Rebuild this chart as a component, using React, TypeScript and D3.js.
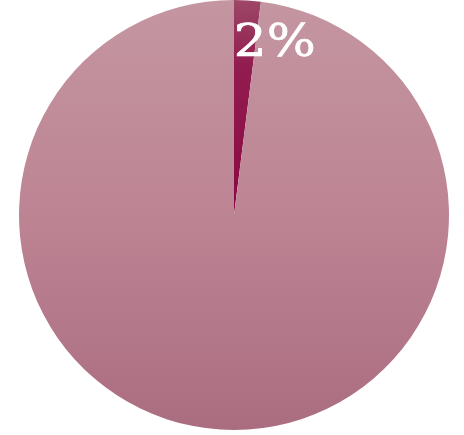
import React from "react";
import * as d3 from "d3";

const categories: string[] = ["A", "B"];
const values: number[] = [2, 98];
const labels: string[] = ["2%", ""];

const W = 464;
const H = 435;

export default function App() {
  const cx = 234;
  const cy = 215;
  const r = 215;
  const pie = d3.pie<number>().sort(null).value((d) => d);
  const arcs = pie(values);
  const arc = d3.arc<d3.PieArcDatum<number>>().innerRadius(0).outerRadius(r);
  const labelArc = d3.arc<d3.PieArcDatum<number>>().innerRadius(172).outerRadius(172);
  const fills = ["url(#gSmall)", "url(#gBig)"];
  return (
    <svg
      width={W}
      height={H}
      style={{ position: "absolute", left: 0, top: 0 }}
    >
      <defs>
        <linearGradient id="gBig" gradientUnits="userSpaceOnUse" x1="0" y1={-r} x2="0" y2={r}>
          <stop offset="0" stopColor="#c496a1" />
          <stop offset="0.5" stopColor="#bd8494" />
          <stop offset="1" stopColor="#aa6d80" />
        </linearGradient>
        <linearGradient id="gSmall" gradientUnits="userSpaceOnUse" x1="0" y1={-r} x2="0" y2={0}>
          <stop offset="0" stopColor="#9e4767" />
          <stop offset="0.3" stopColor="#921d4f" />
          <stop offset="1" stopColor="#8b0743" />
        </linearGradient>
      </defs>
      <g transform={`translate(${cx},${cy})`}>
        {arcs.map((a, i) => (
          <path key={categories[i]} d={arc(a) || ""} fill={fills[i]} />
        ))}
        {arcs.map((a, i) => {
          if (!labels[i]) return null;
          const [x, y] = labelArc.centroid(a);
          return (
            <text
              key={"l" + i}
              x={x - 11}
              y={y + 13}
              fill="#ffffff"
              stroke="#ffffff"
              strokeWidth={0.7}
              fontFamily="DejaVu Serif"
              fontSize={45}
              textAnchor="start"
              textLength={82}
              lengthAdjust="spacingAndGlyphs"
            >
              {labels[i]}
            </text>
          );
        })}
      </g>
    </svg>
  );
}
